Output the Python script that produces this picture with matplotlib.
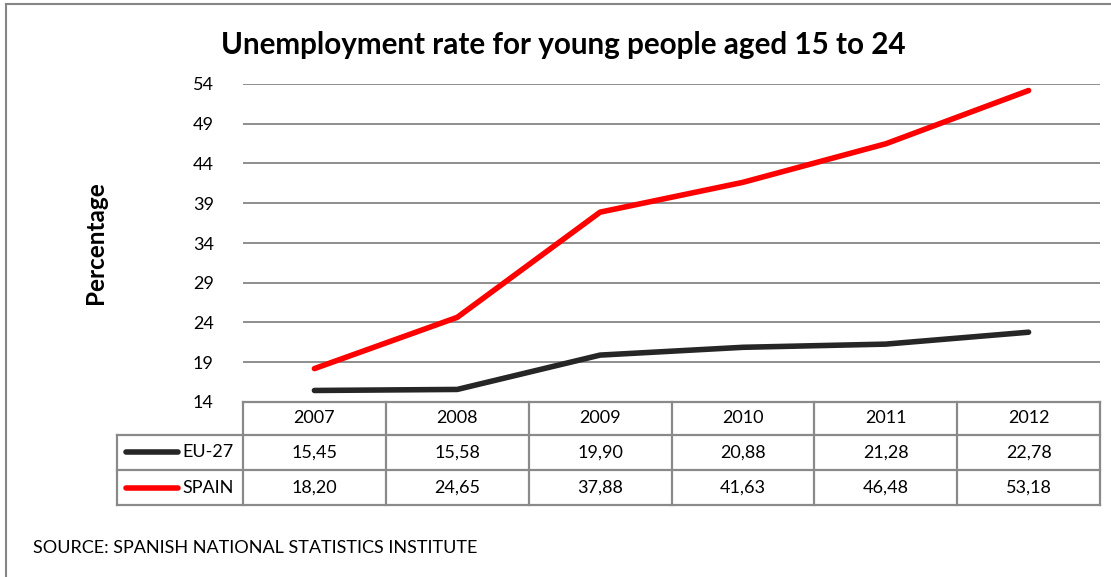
import numpy as np
import matplotlib
matplotlib.use('Agg')
import matplotlib.pyplot as plt
from matplotlib.lines import Line2D

plt.rcParams['font.family'] = ['Lato', 'DejaVu Sans']

years = ['2007', '2008', '2009', '2010', '2011', '2012']
eu27 = [15.45, 15.58, 19.90, 20.88, 21.28, 22.78]
spain = [18.20, 24.65, 37.88, 41.63, 46.48, 53.18]
series_names = ['EU-27', 'SPAIN']
series_colors = ['#262626', '#ff0000']
yticks = [14, 19, 24, 29, 34, 39, 44, 49, 54]

W, H = 1111, 577
fig = plt.figure(figsize=(W / 100, H / 100), dpi=100)


def box(x0, y0, x1, y1):
    # pixel box (top-left origin) -> figure rect
    return [x0 / W, 1 - y1 / H, (x1 - x0) / W, (y1 - y0) / H]


# plot area
ax = fig.add_axes(box(243, 84, 1100, 402))
x = np.arange(len(years))
ax.set_xlim(-0.5, len(years) - 0.5)
ax.set_ylim(14, 54)
for t in yticks[1:]:
    ax.axhline(t, color='#868686', lw=1.3, zorder=1)
for vals, col in zip([eu27, spain], series_colors):
    ax.plot(x, vals, color=col, lw=4, solid_capstyle='round',
            solid_joinstyle='round', zorder=3)
ax.set_yticks(yticks)
ax.set_yticklabels([str(t) for t in yticks], fontsize=13)
ax.tick_params(axis='y', length=0, pad=21)
ax.set_xticks([])
for s in ax.spines.values():
    s.set_visible(False)
ax.set_ylabel('Percentage', fontsize=17.5, fontweight='bold', labelpad=62)

# data table under the plot
tab = fig.add_axes(box(117, 402, 1100, 505))
left_edge = -0.5 - 126 / 142.83
tab.set_xlim(left_edge, len(years) - 0.5)
tab.set_ylim(103, 0)
tab.axis('off')
rows = [0, 32.5, 68, 103]
gc = '#8a8a8a'
lw = 1.6
tab.plot([-0.5, len(years) - 0.5], [rows[0], rows[0]], color=gc, lw=lw, clip_on=False)
for r in rows[1:]:
    tab.plot([left_edge, len(years) - 0.5], [r, r], color=gc, lw=lw, clip_on=False)
tab.plot([left_edge, left_edge], [rows[1], rows[3]], color=gc, lw=lw, clip_on=False)
for i in range(len(years) + 1):
    tab.plot([i - 0.5, i - 0.5], [rows[0], rows[3]], color=gc, lw=lw, clip_on=False)
for i, yr in enumerate(years):
    tab.text(i, (rows[0] + rows[1]) / 2, yr, ha='center', va='center', fontsize=13)
for k, (name, vals, col) in enumerate(zip(series_names, [eu27, spain], series_colors)):
    yc = (rows[k + 1] + rows[k + 2]) / 2
    for i, v in enumerate(vals):
        tab.text(i, yc, f'{v:.2f}'.replace('.', ','), ha='center', va='center', fontsize=13)
    tab.plot([left_edge + 0.06, left_edge + 0.43], [yc, yc], color=col, lw=4,
             solid_capstyle='round', clip_on=False)
    tab.text(left_edge + 0.455, yc, name, ha='left', va='center', fontsize=13)

fig.text(563 / W, 1 - 45 / H, 'Unemployment rate for young people aged 15 to 24',
         ha='center', va='center', fontsize=21.3, fontweight='bold')
fig.text(33 / W, 1 - 548 / H, 'SOURCE: SPANISH NATIONAL STATISTICS INSTITUTE',
         ha='left', va='center', fontsize=13)

# chart frame
fig.add_artist(Line2D([6 / W, 1], [1 - 4 / H, 1 - 4 / H], color='#868686', lw=1.5))
fig.add_artist(Line2D([6 / W, 6 / W], [0, 1 - 4 / H], color='#868686', lw=1.5))

fig.savefig('out.png', dpi=100)
